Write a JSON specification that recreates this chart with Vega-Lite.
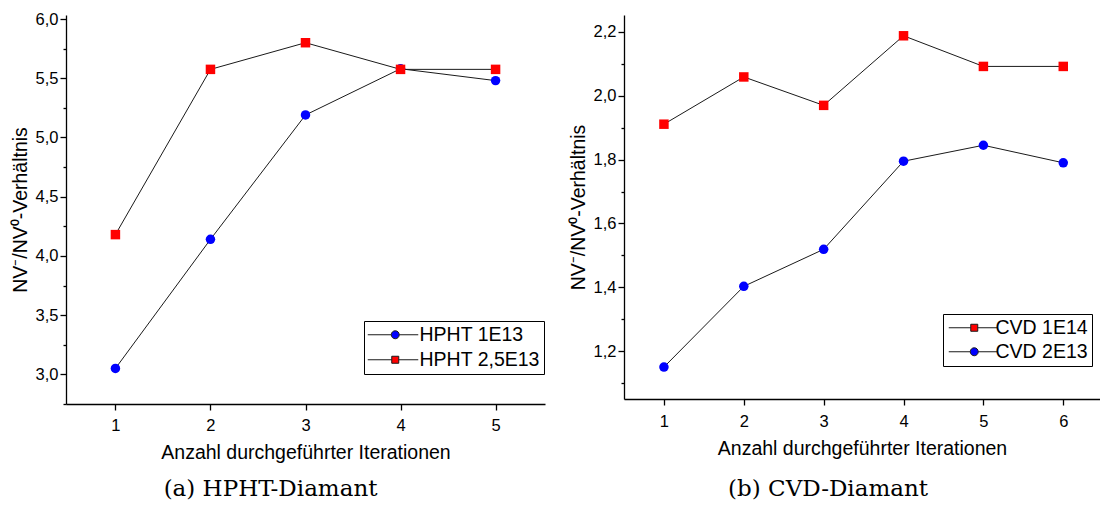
{
  "$schema": "https://vega.github.io/schema/vega-lite/v6.json",
  "padding": {"left": 10, "top": 11, "right": 0, "bottom": 0},
  "spacing": 23,
  "background": "white",
  "config": {
    "view": {"stroke": null},
    "axis": {
      "labelFont": "Liberation Sans", "titleFont": "Liberation Sans",
      "labelColor": "black", "titleColor": "black", "titleFontWeight": "normal",
      "domainColor": "black", "tickColor": "black", "domainWidth": 1.3, "tickWidth": 1.3,
      "grid": false, "labelFontSize": 16.5, "titleFontSize": 19.5
    },
    "legend": {"labelFont": "Liberation Sans", "labelFontSize": 19.5, "labelColor": "black"}
  },
  "datasets": {
    "hpht": [
      {"series": "HPHT 1E13", "iter": 1, "ratio": 3.05},
      {"series": "HPHT 1E13", "iter": 2, "ratio": 4.14},
      {"series": "HPHT 1E13", "iter": 3, "ratio": 5.19},
      {"series": "HPHT 1E13", "iter": 4, "ratio": 5.58},
      {"series": "HPHT 1E13", "iter": 5, "ratio": 5.48},
      {"series": "HPHT 2,5E13", "iter": 1, "ratio": 4.18},
      {"series": "HPHT 2,5E13", "iter": 2, "ratio": 5.575},
      {"series": "HPHT 2,5E13", "iter": 3, "ratio": 5.8},
      {"series": "HPHT 2,5E13", "iter": 4, "ratio": 5.575},
      {"series": "HPHT 2,5E13", "iter": 5, "ratio": 5.575}
    ],
    "cvd": [
      {"series": "CVD 2E13", "iter": 1, "ratio": 1.15},
      {"series": "CVD 2E13", "iter": 2, "ratio": 1.403},
      {"series": "CVD 2E13", "iter": 3, "ratio": 1.519},
      {"series": "CVD 2E13", "iter": 4, "ratio": 1.795},
      {"series": "CVD 2E13", "iter": 5, "ratio": 1.845},
      {"series": "CVD 2E13", "iter": 6, "ratio": 1.79},
      {"series": "CVD 1E14", "iter": 1, "ratio": 1.911},
      {"series": "CVD 1E14", "iter": 2, "ratio": 2.059},
      {"series": "CVD 1E14", "iter": 3, "ratio": 1.97},
      {"series": "CVD 1E14", "iter": 4, "ratio": 2.188},
      {"series": "CVD 1E14", "iter": 5, "ratio": 2.092},
      {"series": "CVD 1E14", "iter": 6, "ratio": 2.092}
    ]
  },
  "hconcat": [
    {
      "width": 479, "height": 389,
      "data": {"name": "hpht"},
      "title": {"text": "(a) HPHT-Diamant", "orient": "bottom", "anchor": "middle", "frame": "bounds", "font": "DejaVu Serif", "fontSize": 23, "fontWeight": "normal", "color": "black", "offset": 16, "dx": -7},
      "layer": [
        {
          "mark": {"type": "line", "color": "#1a1a1a", "strokeWidth": 1},
          "encoding": {
            "x": {"field": "iter", "type": "quantitative", "scale": {"domain": [0.48, 5.52], "nice": false, "zero": false},
                  "axis": {"values": [1, 2, 3, 4, 5], "format": "d", "title": "Anzahl durchgeführter Iterationen", "tickSize": 6, "labelPadding": 7, "titlePadding": 10}},
            "y": {"field": "ratio", "type": "quantitative", "scale": {"domain": [2.75, 6.034], "nice": false, "zero": false},
                  "axis": {"orient": "left", "values": [3, 3.5, 4, 4.5, 5, 5.5, 6], "labelExpr": "replace(format(datum.value, '.1f'), '.', ',')", "title": "NV⁻/NV⁰-Verhältnis", "tickSize": 6, "labelPadding": 2, "titlePadding": 5}},
            "detail": {"field": "series", "type": "nominal"}
          }
        },
        {
          "mark": {"type": "point", "filled": true, "opacity": 1, "size": 90},
          "encoding": {
            "x": {"field": "iter", "type": "quantitative"},
            "y": {"field": "ratio", "type": "quantitative",
                  "axis": {"orient": "left", "values": [2.75, 3.25, 3.75, 4.25, 4.75, 5.25, 5.75], "labels": false, "domain": false, "title": null, "tickSize": 3}},
            "color": {"field": "series", "type": "nominal",
                      "scale": {"domain": ["HPHT 1E13", "HPHT 2,5E13"], "range": ["#0000ff", "#ff0000"]},
                      "legend": {"title": null, "orient": "none", "legendX": 298, "legendY": 306, "strokeColor": "black", "fillColor": "white", "padding": 4, "rowPadding": 4, "labelOffset": 32, "symbolSize": 100, "symbolStrokeWidth": 1, "symbolStrokeColor": "#1a1a1a", "symbolOpacity": 1,
                                 "encode": {"symbols": {"update": {"shape": {"signal": "datum.value === 'HPHT 1E13' ? 'M-2,0L2.7,0M4.3,0L8.1,0M4.3,0C4.3,0.4418,3.9418,0.8,3.5,0.8C3.0582,0.8,2.7,0.4418,2.7,0C2.7,-0.4418,3.0582,-0.8,3.5,-0.8C3.9418,-0.8,4.3,-0.4418,4.3,0Z' : 'M-2,0L2.8,0M4.2,0L8.1,0M2.8,-0.7L4.2,-0.7L4.2,0.7L2.8,0.7Z'"}, "stroke": {"value": "#1a1a1a"}, "strokeWidth": {"value": 1}, "size": {"value": 100}}}}}},
            "shape": {"condition": {"test": "datum.series === 'HPHT 1E13'", "value": "circle"}, "value": "square"}
          }
        }
      ],
      "resolve": {"axis": {"y": "independent"}}
    },
    {
      "width": 476, "height": 384,
      "data": {"name": "cvd"},
      "title": {"text": "(b) CVD-Diamant", "orient": "bottom", "anchor": "middle", "frame": "bounds", "font": "DejaVu Serif", "fontSize": 23, "fontWeight": "normal", "color": "black", "offset": 20, "dx": -6},
      "layer": [
        {
          "mark": {"type": "line", "color": "#1a1a1a", "strokeWidth": 1},
          "encoding": {
            "x": {"field": "iter", "type": "quantitative", "scale": {"domain": [0.5, 6.46], "nice": false, "zero": false},
                  "axis": {"values": [1, 2, 3, 4, 5, 6], "format": "d", "title": "Anzahl durchgeführter Iterationen", "tickSize": 6, "labelPadding": 8, "titlePadding": 10}},
            "y": {"field": "ratio", "type": "quantitative", "scale": {"domain": [1.05, 2.2531], "nice": false, "zero": false},
                  "axis": {"orient": "left", "values": [1.2, 1.4, 1.6, 1.8, 2.0, 2.2], "labelExpr": "replace(format(datum.value, '.1f'), '.', ',')", "title": "NV⁻/NV⁰-Verhältnis", "tickSize": 6, "labelPadding": 2, "titlePadding": 5}},
            "detail": {"field": "series", "type": "nominal"}
          }
        },
        {
          "mark": {"type": "point", "filled": true, "opacity": 1, "size": 90},
          "encoding": {
            "x": {"field": "iter", "type": "quantitative"},
            "y": {"field": "ratio", "type": "quantitative",
                  "axis": {"orient": "left", "values": [1.1, 1.3, 1.5, 1.7, 1.9, 2.1], "labels": false, "domain": false, "title": null, "tickSize": 3}},
            "color": {"field": "series", "type": "nominal",
                      "scale": {"domain": ["CVD 1E14", "CVD 2E13"], "range": ["#ff0000", "#0000ff"]},
                      "legend": {"title": null, "orient": "none", "legendX": 319, "legendY": 299, "strokeColor": "black", "fillColor": "white", "padding": 4, "rowPadding": 3, "labelOffset": 29, "symbolSize": 100, "symbolStrokeWidth": 1, "symbolStrokeColor": "#1a1a1a", "symbolOpacity": 1,
                                 "encode": {"symbols": {"update": {"shape": {"signal": "datum.value === 'CVD 2E13' ? 'M-1.6,0L2.7,0M4.3,0L8.1,0M4.3,0C4.3,0.4418,3.9418,0.8,3.5,0.8C3.0582,0.8,2.7,0.4418,2.7,0C2.7,-0.4418,3.0582,-0.8,3.5,-0.8C3.9418,-0.8,4.3,-0.4418,4.3,0Z' : 'M-1.6,0L2.8,0M4.2,0L8.1,0M2.8,-0.7L4.2,-0.7L4.2,0.7L2.8,0.7Z'"}, "stroke": {"value": "#1a1a1a"}, "strokeWidth": {"value": 1}, "size": {"value": 100}}}}}},
            "shape": {"condition": {"test": "datum.series === 'CVD 2E13'", "value": "circle"}, "value": "square"}
          }
        }
      ],
      "resolve": {"axis": {"y": "independent"}}
    }
  ],
  "resolve": {"scale": {"color": "independent"}, "legend": {"color": "independent"}}
}
